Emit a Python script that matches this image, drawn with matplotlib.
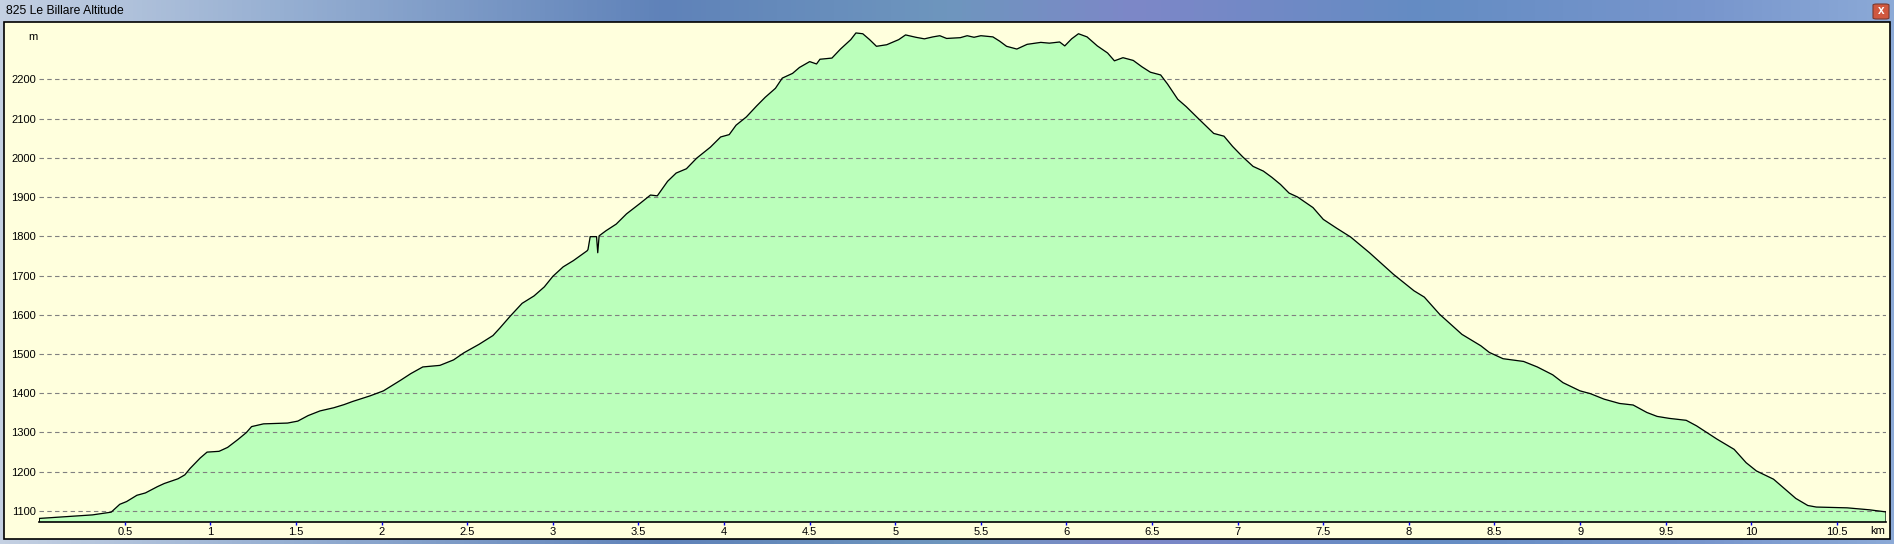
import numpy as np
import matplotlib
matplotlib.use("Agg")
import matplotlib.pyplot as plt
from matplotlib.patches import Rectangle, FancyBboxPatch

title = "825 Le Billare Altitude"

# profile: distance (km) / altitude (m)
km = [0.00, 0.14, 0.31, 0.42, 0.47, 0.51, 0.57, 0.62, 0.69, 0.73, 0.81, 0.85,
      0.88, 0.94, 0.98, 1.05, 1.10, 1.16, 1.21, 1.24, 1.31, 1.45, 1.51, 1.57,
      1.64, 1.72, 1.78, 1.83, 1.93, 2.01, 2.11, 2.17, 2.24, 2.34, 2.42, 2.48,
      2.57, 2.65, 2.69, 2.75, 2.82, 2.89, 2.95, 3.00, 3.06, 3.12, 3.20, 3.205,
      3.218, 3.255, 3.262, 3.27, 3.31, 3.37, 3.43, 3.51, 3.57, 3.61, 3.67, 3.72,
      3.78, 3.84, 3.92, 3.98, 4.03, 4.07, 4.13, 4.19, 4.24, 4.30, 4.34, 4.40,
      4.44, 4.50, 4.54, 4.56, 4.63, 4.68, 4.74, 4.77, 4.81, 4.85, 4.89, 4.95,
      5.02, 5.06, 5.12, 5.17, 5.22, 5.26, 5.30, 5.38, 5.42, 5.46, 5.50, 5.57,
      5.61, 5.65, 5.71, 5.77, 5.85, 5.90, 5.96, 5.99, 6.03, 6.07, 6.12, 6.18,
      6.24, 6.28, 6.33, 6.39, 6.44, 6.49, 6.55, 6.59, 6.65, 6.70, 6.77, 6.86,
      6.92, 6.97, 7.03, 7.09, 7.15, 7.20, 7.25, 7.30, 7.35, 7.44, 7.50, 7.58,
      7.66, 7.77, 7.91, 8.03, 8.09, 8.18, 8.31, 8.42, 8.47, 8.55, 8.67, 8.75,
      8.84, 8.90, 9.00, 9.06, 9.14, 9.23, 9.31, 9.39, 9.45, 9.52, 9.62, 9.68,
      9.74, 9.80, 9.90, 9.97, 10.03, 10.13, 10.21, 10.26, 10.33, 10.38, 10.56,
      10.69, 10.78, 10.787]
alt = [1081, 1085, 1090, 1097, 1117, 1124, 1140, 1146, 1162, 1170, 1182, 1192,
       1208, 1235, 1250, 1252, 1262, 1282, 1300, 1315, 1322, 1324, 1329, 1343,
       1355, 1363, 1371, 1379, 1393, 1406, 1433, 1450, 1467, 1471, 1485, 1503,
       1525, 1547, 1566, 1596, 1629, 1648, 1671, 1698, 1722, 1738, 1763, 1766,
       1799, 1799, 1758, 1801, 1814, 1831, 1857, 1884, 1905, 1903, 1940, 1961,
       1972, 1999, 2027, 2053, 2059, 2083, 2104, 2132, 2154, 2177, 2203, 2215,
       2230, 2245, 2239, 2251, 2254, 2277, 2301, 2318, 2316, 2301, 2284, 2288,
       2301, 2313, 2307, 2303, 2308, 2311, 2304, 2306, 2311, 2307, 2311, 2308,
       2297, 2284, 2277, 2289, 2294, 2292, 2295, 2285, 2303, 2316, 2308, 2285,
       2267, 2247, 2255, 2248, 2232, 2218, 2211, 2188, 2149, 2130, 2100, 2062,
       2055, 2029, 2002, 1978, 1966, 1950, 1932, 1910, 1900, 1873, 1843, 1820,
       1798, 1758, 1703, 1661, 1645, 1601, 1550, 1521, 1504, 1488, 1481, 1467,
       1447, 1427, 1406, 1399, 1385, 1374, 1370, 1351, 1341, 1336, 1331, 1317,
       1300, 1283, 1257, 1223, 1202, 1181, 1151, 1132, 1114, 1110, 1108,
       1103, 1098, 1098]

yticks = list(range(1100, 2201, 100))
xticks = [0.5, 1, 1.5, 2, 2.5, 3, 3.5, 4, 4.5, 5, 5.5, 6, 6.5, 7, 7.5, 8,
          8.5, 9, 9.5, 10, 10.5]
xtick_labels = ["0.5", "1", "1.5", "2", "2.5", "3", "3.5", "4", "4.5", "5",
                "5.5", "6", "6.5", "7", "7.5", "8", "8.5", "9", "9.5", "10",
                "10.5"]

W, H = 1894, 544
plt.rcParams['font.family'] = ['Liberation Sans', 'DejaVu Sans']
fig = plt.figure(figsize=(W / 100, H / 100), dpi=100)

# window chrome: blue gradient background
bg = fig.add_axes([0, 0, 1, 1])
bg.set_axis_off()
bg.set_zorder(0)
stops = np.array([0, 0.15, 0.35, 0.5, 0.6, 0.75, 0.9, 1.0])
cols = np.array([[196, 208, 226], [150, 175, 210], [95, 130, 185],
                 [110, 150, 190], [125, 135, 200], [100, 140, 195],
                 [120, 150, 205], [140, 170, 215]]) / 255
xs = np.linspace(0, 1, 400)
grad = np.stack([np.interp(xs, stops, cols[:, i]) for i in range(3)], axis=-1)
bg.imshow(grad[None, :, :], aspect='auto', extent=[0, 1, 0, 1], zorder=0)
bg.set_xlim(0, 1)
bg.set_ylim(0, 1)

def px(x, y):
    return x / W, 1 - y / H

# yellow panel
x0, y0 = px(4, 539)
bg.add_patch(Rectangle((x0, y0), 1886 / W, 517 / H, transform=fig.transFigure,
                       facecolor='#ffffdd', edgecolor='black', lw=1.2, zorder=1))

bg.text(6 / W, 1 - 11 / H, title, fontsize=8.7, va='center', ha='left', color='black',
        transform=fig.transFigure)

# close button
bx, by = px(1873, 19)
bg.add_patch(FancyBboxPatch((bx, by), 16 / W, 15 / H, transform=fig.transFigure,
                            boxstyle='round,pad=0,rounding_size=0.002',
                            facecolor='#d0583f', edgecolor='#7a3a30', lw=0.8, zorder=2))
bg.text(1881 / W, 1 - 11.5 / H, "x", fontsize=8.5, fontweight='bold', color='white',
        ha='center', va='center', zorder=3, transform=fig.transFigure)

# plot area
left, bottom = px(39.3, 521.7)
_, top = px(0, 23)
ax = fig.add_axes([left, bottom, (1886 - 39.3) / W, top - bottom])
ax.set_zorder(2)
ax.patch.set_alpha(0)
ax.set_xlim(0, 10.787)
ax.set_ylim(1072.7, 2343.4)

base = 1072.7
xx = [0] + km + [km[-1]]
yy = [base] + alt + [base]
ax.fill(xx, yy, color='#bbffbb', zorder=1)
ax.plot(xx, yy, color='black', lw=0.9, zorder=3)

ax.set_yticks(yticks)
ax.set_yticklabels([str(v) for v in yticks], fontsize=8)
ax.tick_params(axis='y', length=0, pad=2.5)
ax.set_xticks(xticks)
ax.set_xticklabels(xtick_labels, fontsize=8)
ax.tick_params(axis='x', length=2.5, width=1, color='#0000ee', pad=1.5, direction='out')
ax.yaxis.grid(True, color='#808080', lw=0.8, linestyle=(0, (4, 3)), zorder=2)
ax.set_axisbelow(False)
for s in ['left', 'right', 'top']:
    ax.spines[s].set_visible(False)
ax.spines['bottom'].set_color('black')
ax.spines['bottom'].set_linewidth(1.2)

bg.text(32.7 / W, 1 - 37 / H, "m", fontsize=8, ha='center', va='center',
        transform=fig.transFigure)
bg.text(1878 / W, 1 - 531 / H, "km", fontsize=8, ha='center', va='center',
        transform=fig.transFigure)

fig.savefig("out.png", dpi=100)
